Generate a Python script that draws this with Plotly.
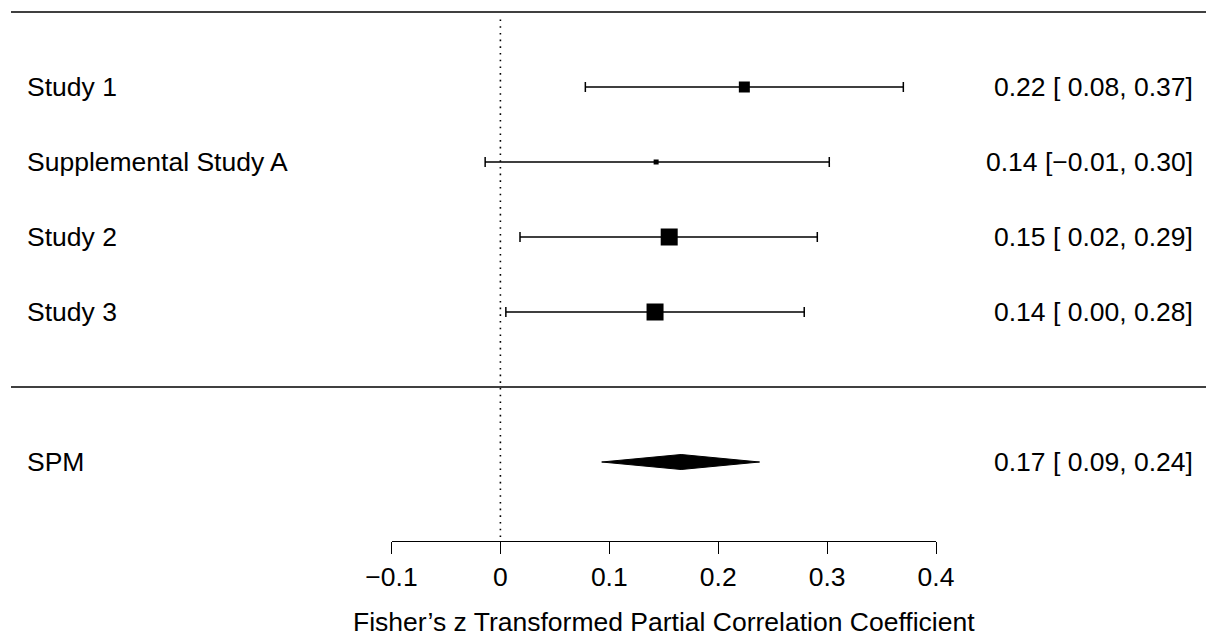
import plotly.graph_objects as go

# ---- data ----
studies = ["Study 1", "Supplemental Study A", "Study 2", "Study 3"]
rows = [4, 3, 2, 1]
est = [0.224, 0.143, 0.155, 0.142]
ci_lo = [0.078, -0.014, 0.018, 0.005]
ci_hi = [0.370, 0.302, 0.291, 0.279]
marker_px = [11, 5, 17, 17]
est_text = ["0.22 [ 0.08, 0.37]", "0.14 [\u22120.01, 0.30]",
            "0.15 [ 0.02, 0.29]", "0.14 [ 0.00, 0.28]"]

summary_label = "SPM"
summary_row = -1
summary_est = 0.166
summary_lo = 0.093
summary_hi = 0.238
summary_text = "0.17 [ 0.09, 0.24]"

tick_vals = [-0.1, 0, 0.1, 0.2, 0.3, 0.4]
tick_text = ["\u22120.1", "0", "0.1", "0.2", "0.3", "0.4"]
x_title = "Fisher\u2019s z Transformed Partial Correlation Coefficient"

FONT = "Liberation Sans, Arial, Helvetica, sans-serif"
FS = 26.5
W, H = 1206, 637

fig = go.Figure()

# study estimates with CIs
fig.add_trace(go.Scatter(
    x=est, y=rows, mode="markers",
    marker=dict(symbol="square", size=marker_px, color="black", opacity=1,
                line=dict(width=0)),
    error_x=dict(type="data", symmetric=False,
                 array=[h - e for h, e in zip(ci_hi, est)],
                 arrayminus=[e - l for e, l in zip(est, ci_lo)],
                 color="black", thickness=1.5, width=5),
    showlegend=False, hoverinfo="skip",
))

# summary diamond
dh = 0.1
fig.add_trace(go.Scatter(
    x=[summary_lo, summary_est, summary_hi, summary_est, summary_lo],
    y=[summary_row, summary_row + dh, summary_row, summary_row - dh, summary_row],
    mode="lines", fill="toself", fillcolor="black",
    line=dict(color="black", width=1), showlegend=False, hoverinfo="skip",
))

# reference dotted line at 0
fig.add_shape(type="line", xref="x", yref="y", x0=0, x1=0, y0=-2.0, y1=4.93,
              line=dict(color="black", width=1.6, dash="1.6px,5.1px"))
# horizontal rules
for yv in [5, 0]:
    fig.add_shape(type="line", xref="paper", yref="y", x0=11 / W, x1=1.0, y0=yv, y1=yv,
                  line=dict(color="black", width=1.5))

# left labels
for lab, r in zip(studies + [summary_label], rows + [summary_row]):
    fig.add_annotation(text=lab, xref="paper", yref="y", x=25 / W, y=r,
                       xanchor="left", yanchor="middle", showarrow=False,
                       font=dict(family=FONT, size=FS, color="black"))
# right labels
for lab, r in zip(est_text + [summary_text], rows + [summary_row]):
    fig.add_annotation(text=lab, xref="paper", yref="y", x=1195 / W, y=r,
                       xanchor="right", yanchor="middle", showarrow=False,
                       font=dict(family=FONT, size=FS, color="black"))

y_bottom = (387 - 541) / 75.0
y_top = 387 / 75.0

fig.update_layout(
    width=W, height=H,
    margin=dict(l=0, r=0, t=0, b=H - 541, autoexpand=False),
    paper_bgcolor="white", plot_bgcolor="white",
    font=dict(family=FONT, size=FS, color="black"),
    xaxis=dict(domain=[391.5 / W, 936 / W], range=[-0.1, 0.4],
               showline=True, linecolor="black", linewidth=1.4,
               ticks="outside", ticklen=12, tickwidth=1.4, tickcolor="black",
               tickvals=tick_vals, ticktext=tick_text,
               tickfont=dict(family=FONT, size=FS, color="black"),
               showgrid=False, zeroline=False, automargin=False,
               title=dict(text=x_title, font=dict(family=FONT, size=FS, color="black"),
                          standoff=24)),
    yaxis=dict(range=[y_bottom, y_top], visible=False, showgrid=False, zeroline=False,
               automargin=False),
)

fig.write_html("out.html")
